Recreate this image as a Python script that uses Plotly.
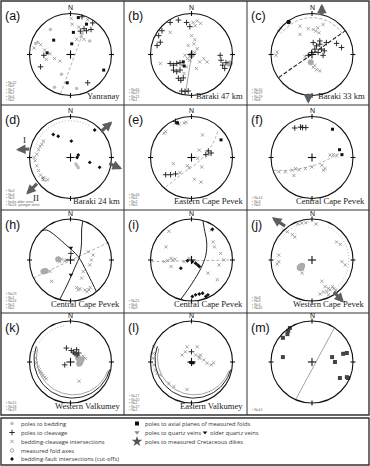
import plotly.graph_objects as go
import numpy as np

W, H = 370, 466
R = 41.0
COL_EDGES = [1, 124, 247, 369]
ROW_EDGES = [1, 105, 210, 313, 415]
CX = [70.5, 191.5, 312]
CY = [54.5, 157.5, 260, 362]

LABELS = ["(a)", "(b)", "(c)", "(d)", "(e)", "(f)", "(h)", "(i)", "(j)", "(k)", "(l)", "(m)"]
PLACES = ["Yanranay", "Baraki 47 km", "Baraki 33 km", "Baraki 24 km", "Eastern Cape Pevek",
          "Central Cape Pevek", "Central Cape Pevek", "Central Cape Pevek", "Western Cape Pevek",
          "Western Valkumey", "Eastern Valkumey", ""]
COUNTS = [
    ["N=22", "N=9", "N=7", "N=7", "N=6", "N=2"],
    ["N=65", "N=27", "N=21", "N=1"],
    ["N=10", "N=19", "N=29", "N=8"],
    ["N=3", "N=3", "N=3", "faults older veins", "N=16  younger veins"],
    ["N=16", "N=5", "N=2", "N=5"],
    ["N=14", "N=3", "N=3"],
    ["N=23", "N=1", "N=14", "N=2", "N=2"],
    ["N=21", "N=6", "N=9"],
    ["N=8", "N=3", "N=3", "N=45"],
    ["N=15", "N=18", "N=19"],
    ["N=17", "N=20", "N=2", "N=17", "N=1"],
    ["N=10"],
]

# ---------------- data (normalised stereonet coordinates, x=E, y=N) ----------------
A_BED = [(-0.85, 0.27), (-0.80, 0.30), (-0.49, 0.61), (0.47, 0.33), (0.26, 0.43), (-0.22, -0.48),
         (-0.39, -0.80), (0.15, -0.83), (0.28, 0.51)]
A_CLV = [(0.33, 0.63), (0.50, 0.61), (0.24, 0.57), (0.54, 0.77), (-0.65, -0.02), (-0.73, -0.30),
         (0.42, -0.69), (0.28, 0.92), (0.39, 0.58)]
A_INT = [(-0.73, 0.24), (-0.89, 0.16), (-0.63, 0.11), (-0.50, 0.02), (-0.39, -0.10), (-0.26, -0.16),
         (-0.59, -0.12), (0.33, 0.37), (0.15, 0.37), (0.02, 0.88), (0.04, 0.74), (0.42, 0.85), (0.20, 0.67)]
A_AXP = [(0.19, 0.90), (0.39, 0.74), (0.07, 0.54), (0.03, 0.26), (-0.57, 0.04), (-0.08, -0.69),
         (0.81, -0.38), (-0.41, 0.35)]
A_LINE = [(-0.24, -0.95), (0.28, 0.47)]

B_CLV = [(-0.52, -0.22), (-0.44, -0.26), (-0.36, -0.22), (-0.28, -0.20), (-0.44, -0.38), (-0.36, -0.42),
         (-0.28, -0.38), (-0.32, -0.58), (-0.26, -0.63), (-0.20, -0.57), (0.72, -0.14), (0.76, -0.26),
         (0.81, -0.34), (0.84, -0.20), (0.70, -0.02), (-0.76, 0.30), (-0.84, 0.22), (-0.80, 0.46),
         (-0.72, 0.58), (-0.52, 0.78), (-0.32, 0.84), (-0.12, 0.78), (-0.04, 0.68), (-0.16, -0.90),
         (-0.08, -0.89), (-0.24, -0.89)]
B_INT = [(0.04, 0.78), (0.14, 0.82), (0.09, 0.70), (0.00, 0.46), (0.08, 0.36), (-0.08, 0.22), (0.06, 0.26),
         (0.14, 0.14), (-0.16, -0.02), (-0.10, -0.10), (-0.04, -0.14), (-0.23, -0.26), (-0.12, -0.30),
         (0.20, -0.18), (0.30, -0.10), (0.38, -0.18), (0.12, -0.34), (-0.18, -0.46), (-0.76, -0.22),
         (-0.52, 0.54), (0.22, 0.76), (0.92, -0.26), (0.08, 0.05)]
B_AXP = [(-0.20, -0.18), (-0.18, -0.28)]
B_BIG = [(0.0, -0.02), (0.93, -0.22)]
B_LINE = [(-0.15, -0.97), (0.02, 0.10)]

C_CLV = [(0.03, 0.29), (0.11, 0.21), (0.19, 0.25), (0.07, 0.13), (0.15, 0.05), (0.23, 0.13), (-0.01, 0.05),
         (0.30, 0.09), (0.27, -0.02), (0.19, 0.33), (0.35, 0.29), (0.72, 0.17), (0.60, 0.27), (-0.09, -0.02)]
C_INT = [(-0.29, 0.49), (-0.09, 0.63), (0.03, 0.61), (0.09, 0.57), (0.14, 0.65), (0.17, 0.53), (-0.29, 0.69),
         (0.27, 0.73), (-0.85, 0.06), (-0.88, -0.02), (-0.17, -0.05), (0.03, -0.31), (0.11, -0.37),
         (0.19, -0.40), (0.07, -0.27), (-0.81, 0.57), (-0.77, 0.65)]
C_BIG = [(-0.03, -0.19)]
C_CUT = [(-0.57, 0.79)]
C_LINE = [(-0.81, -0.56), (0.80, 0.57)]

D_INT = [(-0.66, 0.40), (-0.70, 0.32), (-0.74, 0.27), (-0.78, 0.19), (-0.82, 0.08), (-0.89, 0.0),
         (-0.86, -0.08), (-0.82, -0.20), (-0.78, -0.32), (-0.73, -0.43), (-0.65, -0.49), (-0.56, -0.54)]
D_CUT = [(-0.42, 0.56), (-0.30, 0.52), (0.02, 0.40), (0.47, -0.12), (0.71, -0.24), (0.16, 0.0),
         (0.19, 0.06), (0.59, 0.67)]
D_BED = [(0.13, -0.16), (0.16, -0.20), (0.19, -0.25)]

E_ARC = [(-0.63, -0.72), (-0.43, -0.56), (-0.22, -0.39), (-0.02, -0.25), (0.19, -0.09), (0.35, 0.10),
         (0.52, 0.34), (0.64, 0.63)]
E_CLV = [(-0.63, -0.42), (-0.51, -0.42), (-0.39, -0.40), (0.35, 0.07), (0.48, 0.11), (0.41, 0.16),
         (-0.39, 0.88)]
E_INT = [(-0.67, 0.59), (-0.63, 0.63), (-0.39, 0.84), (-0.30, 0.81), (-0.18, 0.84), (-0.13, 0.86),
         (0.27, 0.55), (0.19, 0.18), (-0.44, -0.15), (0.25, -0.23), (0.07, -0.53), (0.23, -0.60),
         (-0.06, -0.25), (-0.10, -0.20), (-0.28, -0.37), (0.15, -0.02), (0.43, 0.07)]
E_AXP = [(0.72, 0.43), (-0.34, 0.84)]

F_ARC = [(-0.93, -0.31), (-0.56, -0.31), (-0.20, -0.25), (0.12, -0.17), (0.44, -0.02), (0.69, 0.12)]
F_INT = [(-0.81, -0.35), (-0.65, -0.35), (-0.48, -0.31), (-0.40, -0.27), (-0.32, -0.30), (-0.16, -0.27),
         (0.0, -0.23), (0.24, -0.19), (0.32, -0.27), (0.28, -0.31), (0.44, 0.06), (0.52, 0.07),
         (0.60, 0.04), (-0.44, -0.44), (-0.24, 0.76)]
F_AXP = [(0.50, 0.69), (0.67, 0.19), (0.73, 0.07)]
F_CLV = [(-0.42, 0.72), (-0.28, 0.74), (-0.23, 0.73), (-0.15, 0.73)]

H_ARC1 = [(0.30, 0.95), (0.27, 0.73), (0.27, 0.44), (0.23, 0.12), (0.10, -0.20), (-0.06, -0.56), (-0.26, -0.96)]
H_ARC2 = [(-0.70, 0.71), (-0.58, 0.73), (-0.10, 0.36), (0.19, 0.08), (0.39, -0.28), (0.55, -0.60), (0.63, -0.77)]
H_LINE = [(-0.90, -0.44), (0.95, 0.44)]
H_INT = [(-0.30, 0.0), (-0.26, -0.04), (-0.22, 0.02), (-0.14, -0.02), (-0.10, 0.0), (-0.50, -0.28),
         (-0.46, -0.52), (0.15, -0.67), (0.23, -0.70), (0.35, -0.73), (0.40, -0.77), (0.45, -0.73),
         (0.48, -0.67), (0.51, 0.0), (0.47, -0.12), (0.31, -0.28), (0.19, -0.73), (0.27, -0.44),
         (0.55, 0.12), (0.43, 0.20)]
H_BIG = [(-0.66, -0.28), (-0.61, -0.27), (-0.30, 0.02)]
H_QV = [(0.01, 0.30), (0.01, -0.36)]
H_CLV = [(0.01, 0.16)]

I_ARC = [(0.28, 0.96), (0.31, 0.77), (0.37, 0.44), (0.35, 0.12), (0.23, -0.20), (0.02, -0.56), (-0.26, -0.96)]
I_LINE = [(-0.98, -0.04), (0.99, 0.0)]
I_CUT = [(-0.26, -0.20), (0.02, -0.04), (0.10, -0.08), (0.15, -0.12), (0.19, -0.16), (-0.10, -0.02),
         (0.02, -0.89), (0.10, -0.85), (0.19, -0.83), (0.27, -0.81), (0.35, -0.89), (0.40, -0.85), (0.51, 0.75)]
I_INT = [(-0.62, 0.32), (-0.66, -0.04), (-0.58, -0.01), (-0.50, 0.04), (-0.46, 0.0), (-0.40, 0.02),
         (-0.50, -0.16), (-0.18, -0.04), (-0.06, 0.04), (0.53, 0.44), (0.56, 0.32), (0.71, 0.16),
         (0.79, 0.0), (0.67, -0.12), (0.40, -0.32), (0.63, -0.48), (0.48, 0.73), (-0.55, 0.70)]

J_INT = [(-0.69, 0.73), (-0.60, 0.69), (-0.48, 0.62), (-0.42, 0.56), (-0.81, 0.12), (-0.85, -0.10),
         (-0.81, -0.04), (0.60, 0.44), (0.69, 0.38), (0.73, -0.04), (0.81, -0.12), (0.24, -0.52),
         (0.32, -0.65), (0.40, -0.69), (0.44, -0.73), (0.50, -0.65), (0.53, -0.70), (0.58, -0.73),
         (0.36, -0.77), (0.28, -0.78), (0.20, -0.83), (0.40, -0.85), (-0.24, -0.32), (-0.32, -0.20),
         (-0.35, 0.88), (-0.25, 0.90), (-0.15, 0.91), (0.10, 0.88)]
J_BIG = [(-0.28, -0.16), (-0.26, -0.20), (-0.30, -0.19), (-0.24, -0.14)]

K_INT = [(-0.87, 0.22), (-0.85, 0.10), (-0.83, -0.02), (-0.79, -0.11), (-0.76, -0.19), (-0.73, -0.24),
         (-0.70, -0.28), (-0.67, -0.33), (-0.63, -0.37), (-0.59, -0.41), (0.21, -0.47), (0.31, 0.14),
         (0.36, 0.09)]
K_CLV = [(-0.10, 0.34), (0.02, 0.28), (0.07, 0.24), (0.11, 0.20), (0.16, 0.17), (0.20, 0.22),
         (-0.14, -0.07), (0.15, 0.30)]
K_BIG = [(0.23, 0.02), (0.27, 0.06), (0.19, 0.09), (0.21, -0.04), (0.24, -0.01)]

L_CLV = [(0.0, 0.25)]
L_INT = [(0.14, 0.37), (0.22, 0.17), (0.18, 0.13), (0.20, 0.09), (-0.23, 0.17), (-0.15, 0.25),
         (-0.11, 0.37), (0.38, -0.03), (0.48, -0.07), (0.54, -0.02), (0.10, 0.17), (0.30, 0.05),
         (-0.92, 0.37), (-0.93, 0.21), (-0.94, 0.09), (-0.92, -0.07), (-0.88, -0.20), (-0.84, -0.28),
         (-0.76, -0.32), (-0.55, -0.52), (-0.43, -0.60), (-0.11, -0.67)]
L_AXP = [(-0.02, -0.01), (0.04, -0.02)]

M_AXP = [(-0.71, 0.12), (0.49, 0.12), (0.56, 0.0), (0.76, 0.20), (0.85, 0.22), (0.68, -0.39),
         (0.85, -0.37), (0.88, -0.39), (-0.71, 0.59), (-0.60, 0.68), (-0.58, 0.76), (-0.54, 0.83)]
M_LINE = [(-0.40, -0.92), (0.55, 0.84)]

LEG1 = ["poles to bedding", "poles to cleavage", "bedding-cleavage intersections",
        "measured fold axes", "bedding-fault intersections (cut-offs)"]
LEG2 = ["poles to axial planes of measured folds", "poles to quartz veins",
        "poles to measured Cretaceous dikes"]
LEG_OLD = "older quartz veins"

# ---------------- styles ----------------
STY = {
    "bed": dict(symbol="circle", color="#bdbdbd", size=3.5, line=dict(width=0)),
    "big": dict(symbol="circle", color="#aaaaaa", size=6, line=dict(width=0)),
    "clv": dict(symbol="cross-thin", color="#1a1a1a", size=4, line=dict(width=0.9, color="#1a1a1a")),
    "int": dict(symbol="x-thin", color="#8f8f8f", size=3.2, line=dict(width=0.8, color="#8f8f8f")),
    "fold": dict(symbol="circle-open", color="#8f8f8f", size=3.5, line=dict(width=0.8, color="#8f8f8f")),
    "cut": dict(symbol="diamond", color="#111", size=3, line=dict(width=0)),
    "axp": dict(symbol="square", color="#111", size=3, line=dict(width=0)),
    "axp2": dict(symbol="square", color="#444", size=4, line=dict(width=0)),
    "qv": dict(symbol="triangle-down", color="#111", size=4, line=dict(width=0)),
    "dot": dict(symbol="circle", color="#111", size=4.5, line=dict(width=0)),
}
LSTY = {
    "gdash": dict(color="#a8a8a8", width=0.9, dash="3px,2px"),
    "kdash": dict(color="#222", width=1.1, dash="4px,2px"),
    "k": dict(color="#222", width=1.0),
    "g": dict(color="#9a9a9a", width=0.9),
    "gdot": dict(color="#b0b0b0", width=0.9, dash="1px,2px"),
}

PANELS = [
    dict(pts=[("bed", A_BED), ("int", A_INT), ("clv", A_CLV), ("axp", A_AXP)],
         lines=[("gdash", A_LINE)], arcs=[], arrows=[], texts=[]),
    dict(pts=[("int", B_INT), ("big", B_BIG), ("clv", B_CLV), ("axp", B_AXP)],
         lines=[("g", B_LINE)], arcs=[], arrows=[], texts=[]),
    dict(pts=[("int", C_INT), ("big", C_BIG), ("clv", C_CLV), ("dot", C_CUT)],
         lines=[("kdash", C_LINE)], arcs=[("gdash", 0, 0, 0.9, 35, 145)],
         arrows=[((0.24, 0.92), (0.24, 1.24)), ((-0.09, -0.92), (-0.09, -1.2))], texts=[]),
    dict(pts=[("int", D_INT), ("bed", D_BED), ("cut", D_CUT)],
         lines=[], arcs=[("gdot", 0, 0, 0.9, 60, 165)],
         arrows=[((0.71, 0.60), (1.02, 0.88)), ((0.91, -0.13), (1.26, -0.28)),
                 ((-0.97, 0.21), (-1.33, 0.19)), ((-0.78, -0.60), (-1.08, -0.90))],
         texts=[("I", -1.12, 0.43, 9), ("II", -0.85, -0.98, 9), ("S₀", -0.66, -0.52, 6)]),
    dict(pts=[("int", E_INT), ("clv", E_CLV), ("axp", E_AXP)],
         lines=[("gdash", E_ARC)], arcs=[], arrows=[], texts=[]),
    dict(pts=[("int", F_INT), ("clv", F_CLV), ("axp", F_AXP)],
         lines=[("gdash", F_ARC)], arcs=[], arrows=[], texts=[]),
    dict(pts=[("int", H_INT), ("big", H_BIG), ("clv", H_CLV), ("qv", H_QV)],
         lines=[("gdash", H_LINE), ("k", H_ARC1), ("k", H_ARC2)], arcs=[], arrows=[], texts=[]),
    dict(pts=[("int", I_INT), ("cut", I_CUT)],
         lines=[("gdash", I_LINE), ("k", I_ARC)], arcs=[], arrows=[], texts=[]),
    dict(pts=[("int", J_INT), ("big", J_BIG)],
         lines=[], arcs=[("gdot", 0, 0, 0.9, -45, 65), ("gdot", 0, 0, 0.92, 95, 150)],
         arrows=[((-0.62, 0.80), (-0.98, 1.04)), ((0.50, -0.74), (0.78, -1.04))], texts=[]),
    dict(pts=[("int", K_INT), ("big", K_BIG), ("clv", K_CLV)],
         lines=[], arcs=[("k", 0.05, 0.06, 0.94, 160, 345), ("g", 0.07, 0.1, 0.9, 165, 340),
                         ("gdot", 0, 0, 0.9, 100, 150)], arrows=[], texts=[]),
    dict(pts=[("int", L_INT), ("clv", L_CLV), ("axp", L_AXP)],
         lines=[], arcs=[("k", 0.05, 0.06, 0.94, 160, 345), ("g", 0.07, 0.1, 0.9, 165, 340)],
         arrows=[], texts=[]),
    dict(pts=[("axp2", M_AXP)], lines=[("g", M_LINE)], arcs=[], arrows=[], texts=[]),
]

fig = go.Figure()
layout = dict(width=W, height=H, margin=dict(l=0, r=0, t=0, b=0), autosize=False,
              paper_bgcolor="white", plot_bgcolor="rgba(0,0,0,0)", showlegend=False)
shapes, annos = [], []

for i, P in enumerate(PANELS):
    r, c = divmod(i, 3)
    n = i + 1
    left, right = COL_EDGES[c], COL_EDGES[c + 1]
    top, bottom = ROW_EDGES[r], ROW_EDGES[r + 1]
    cx, cy = CX[c], CY[r]
    xk = "xaxis" if n == 1 else f"xaxis{n}"
    yk = "yaxis" if n == 1 else f"yaxis{n}"
    xa = "x" if n == 1 else f"x{n}"
    ya = "y" if n == 1 else f"y{n}"
    layout[xk] = dict(domain=[left / W, right / W], range=[(left - cx) / R, (right - cx) / R],
                      visible=False, fixedrange=True, anchor=ya)
    layout[yk] = dict(domain=[1 - bottom / H, 1 - top / H], range=[(cy - bottom) / R, (cy - top) / R],
                      visible=False, fixedrange=True, anchor=xa)
    shapes.append(dict(type="circle", xref=xa, yref=ya, x0=-1, y0=-1, x1=1, y1=1,
                       line=dict(color="#111", width=1.1)))
    for (x0, y0, x1, y1) in [(0, 0.94, 0, 1.06), (0, -0.94, 0, -1.06), (0.94, 0, 1.06, 0),
                             (-0.94, 0, -1.06, 0), (-0.1, 0, 0.1, 0), (0, -0.1, 0, 0.1)]:
        shapes.append(dict(type="line", xref=xa, yref=ya, x0=x0, y0=y0, x1=x1, y1=y1,
                           line=dict(color="#111", width=1.1)))
    for sty, pts in P["lines"]:
        fig.add_trace(go.Scatter(x=[p[0] for p in pts], y=[p[1] for p in pts], mode="lines",
                                 line=dict(**LSTY[sty], shape="spline"), xaxis=xa, yaxis=ya,
                                 hoverinfo="skip", cliponaxis=False))
    for sty, ax0, ay0, rr, a0, a1 in P["arcs"]:
        t = np.radians(np.linspace(a0, a1, 60))
        fig.add_trace(go.Scatter(x=ax0 + rr * np.cos(t), y=ay0 + rr * np.sin(t), mode="lines",
                                 line=LSTY[sty], xaxis=xa, yaxis=ya, hoverinfo="skip"))
    for sty, pts in P["pts"]:
        fig.add_trace(go.Scatter(x=[p[0] for p in pts], y=[p[1] for p in pts], mode="markers",
                                 marker=STY[sty], xaxis=xa, yaxis=ya, hoverinfo="skip",
                                 cliponaxis=False))
    for (tail, head) in P["arrows"]:
        annos.append(dict(x=head[0], y=head[1], ax=tail[0], ay=tail[1], xref=xa, yref=ya,
                          axref=xa, ayref=ya, showarrow=True, arrowhead=2, arrowsize=0.6,
                          arrowwidth=3.2, arrowcolor="#5e5e5e", text=""))
    for (txt, tx, ty, fs) in P["texts"]:
        annos.append(dict(x=tx, y=ty, xref=xa, yref=ya, text=txt, showarrow=False,
                          font=dict(family="Liberation Serif", size=fs, color="#222")))
    annos.append(dict(x=0, y=1.14, xref=xa, yref=ya, text="N", showarrow=False, yanchor="middle",
                      font=dict(family="Liberation Sans", size=7, color="#111")))
    annos.append(dict(x=(left + 2) / W, y=1 - (top + 15) / H, xref="paper", yref="paper",
                      text=LABELS[i], showarrow=False, xanchor="left", yanchor="middle",
                      font=dict(family="Liberation Sans", size=12.5, color="#111")))
    if PLACES[i]:
        annos.append(dict(x=(right - 2) / W, y=1 - (bottom - 2.5) / H, xref="paper", yref="paper",
                          text=PLACES[i], showarrow=False, xanchor="right", yanchor="bottom",
                          font=dict(family="Liberation Serif", size=8.6, color="#222")))
    cnt = COUNTS[i]
    for k, s in enumerate(cnt):
        yy = bottom - 5 - (len(cnt) - 1 - k) * 3.4
        annos.append(dict(x=(left + 3) / W, y=1 - yy / H, xref="paper", yref="paper",
                          text="▪ " + s, showarrow=False, xanchor="left", yanchor="middle",
                          font=dict(family="Liberation Sans", size=3.4, color="#666")))

layout["xaxis13"] = dict(domain=[0, 1], range=[0, W], visible=False, fixedrange=True, anchor="y13")
layout["yaxis13"] = dict(domain=[0, 1], range=[H, 0], visible=False, fixedrange=True, anchor="x13")

frame = dict(color="#333", width=1.4)
shapes.append(dict(type="rect", xref="x13", yref="y13", x0=1, y0=1, x1=369, y1=ROW_EDGES[-1], line=frame))
for xe in COL_EDGES[1:-1]:
    shapes.append(dict(type="line", xref="x13", yref="y13", x0=xe, y0=1, x1=xe, y1=ROW_EDGES[-1],
                       line=dict(color="#333", width=1)))
for ye in ROW_EDGES[1:-1]:
    shapes.append(dict(type="line", xref="x13", yref="y13", x0=1, y0=ye, x1=369, y1=ye,
                       line=dict(color="#333", width=1)))
shapes.append(dict(type="rect", xref="x13", yref="y13", x0=1, y0=418, x1=369, y1=465, line=frame))

LEG1_Y = [423.5, 432.5, 441.5, 450.5, 459]
LEG1_STY = ["bed", "clv", "int", "fold", "cut"]
for txt, yy, st in zip(LEG1, LEG1_Y, LEG1_STY):
    fig.add_trace(go.Scatter(x=[12], y=[yy], mode="markers", marker=STY[st], xaxis="x13", yaxis="y13",
                             hoverinfo="skip"))
    annos.append(dict(x=19 / W, y=1 - yy / H, xref="paper", yref="paper", text=txt, showarrow=False,
                      xanchor="left", yanchor="middle",
                      font=dict(family="Open Sans", size=5.8, color="#333")))
LEG2_Y = [423.5, 432.5, 441.5]
LEG2_STY = [dict(symbol="square", color="#111", size=4, line=dict(width=0)),
            dict(symbol="triangle-down", color="#888", size=4.5, line=dict(width=0)),
            dict(symbol="star", color="#555", size=8, line=dict(width=0))]
for txt, yy, mk in zip(LEG2, LEG2_Y, LEG2_STY):
    fig.add_trace(go.Scatter(x=[137], y=[yy], mode="markers", marker=mk, xaxis="x13", yaxis="y13",
                             hoverinfo="skip"))
    annos.append(dict(x=143 / W, y=1 - yy / H, xref="paper", yref="paper", text=txt, showarrow=False,
                      xanchor="left", yanchor="middle",
                      font=dict(family="Open Sans", size=5.8, color="#333")))
fig.add_trace(go.Scatter(x=[205], y=[432.5], mode="markers", marker=STY["qv"], xaxis="x13", yaxis="y13",
                         hoverinfo="skip"))
annos.append(dict(x=208 / W, y=1 - 432.5 / H, xref="paper", yref="paper", text=LEG_OLD, showarrow=False,
                  xanchor="left", yanchor="middle", font=dict(family="Open Sans", size=5.8, color="#333")))

layout["shapes"] = shapes
layout["annotations"] = annos
fig.update_layout(**layout)
fig.write_html("out.html")
